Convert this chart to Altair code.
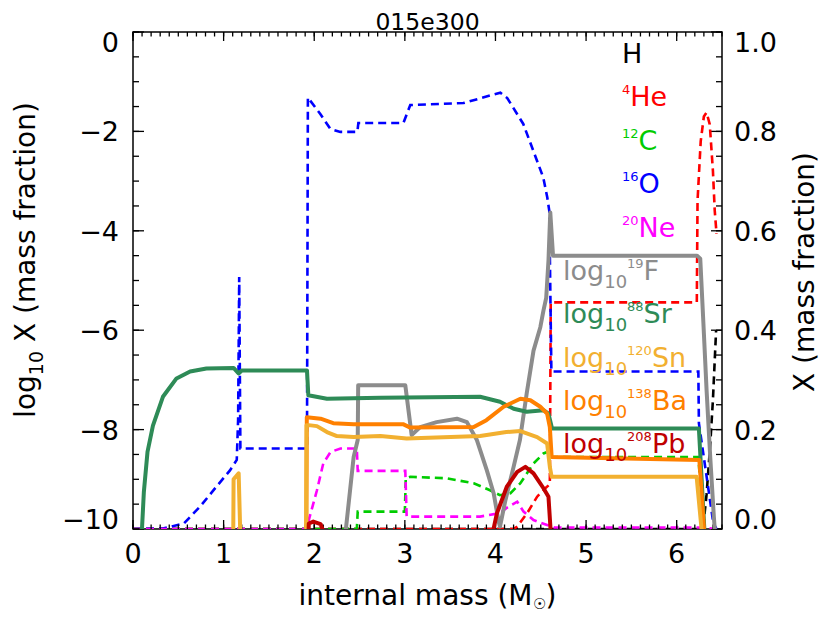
import altair as alt
import pandas as pd

FONT = "DejaVu Sans"
TITLE = "015e300"
X_TITLE_PARTS = [("internal mass (M", "n"), ("☉", "sub"), (")", "n")]
YL_TITLE_PARTS = [("log", "n"), ("10", "sub"), (" X (mass fraction)", "n")]
YR_TITLE = "X (mass fraction)"

# ---------- mass fractions (linear, right axis, dashed) ----------
H_X = [0.0, 6.29, 6.33, 6.37, 6.40, 6.42, 6.435]
H_Y = [0.0, 0.0, 0.07, 0.17, 0.26, 0.34, 0.40]

HE_X = [0.0, 4.20, 4.24, 4.35, 4.46, 4.55, 4.60, 4.61, 6.222, 6.23, 6.265, 6.30, 6.33, 6.365, 6.40, 6.42, 6.44]
HE_Y = [0.0, 0.0, 0.005, 0.032, 0.065, 0.082, 0.09, 0.456, 0.456, 0.66, 0.78, 0.83, 0.838, 0.814, 0.72, 0.64, 0.594]

C_X = [0.0, 2.47, 2.48, 3.00, 3.01, 3.06, 3.46, 3.76, 3.94, 4.05, 4.165, 4.275, 4.42, 4.53, 4.60, 4.61, 6.24, 6.29]
C_Y = [0.0, 0.0, 0.035, 0.035, 0.102, 0.105, 0.102, 0.092, 0.078, 0.068, 0.072, 0.092, 0.132, 0.152, 0.157, 0.145, 0.145, 0.0]

O_X = [0.0, 0.33, 0.56, 0.74, 0.92, 1.07, 1.145, 1.16, 1.172, 1.185, 1.92, 1.93, 2.067, 2.178, 2.288,
       2.476, 2.487, 2.984, 3.06, 3.646, 4.054, 4.13, 4.307, 4.528, 4.572, 4.594, 4.617, 6.239, 6.245, 6.404, 6.44]
O_Y = [0.0, 0.001, 0.011, 0.045, 0.085, 0.118, 0.139, 0.22, 0.507, 0.162, 0.162, 0.868, 0.835, 0.805, 0.799,
       0.799, 0.817, 0.817, 0.853, 0.857, 0.878, 0.867, 0.815, 0.707, 0.667, 0.64, 0.317, 0.317, 0.213, 0.012, 0.0]

NE_X = [0.0, 1.93, 1.94, 2.03, 2.10, 2.18, 2.29, 2.47, 2.48, 3.005, 3.02, 3.83, 4.05, 4.12, 4.24, 4.31, 4.42, 4.57, 4.65, 6.30, 6.44]
NE_Y = [0.0, 0.0, 0.018, 0.078, 0.132, 0.155, 0.162, 0.162, 0.117, 0.117, 0.025, 0.025, 0.032, 0.042, 0.055, 0.035, 0.018, 0.008, 0.003, 0.003, 0.0]

# ---------- log10 mass fractions (left axis, solid); -10.5 = below plot range ----------
F_X = [0.0, 2.32, 2.435, 2.48, 2.485, 3.005, 3.04, 3.075, 3.17, 3.35, 3.575, 3.685, 3.795, 3.905, 3.98, 4.035,
       4.05, 4.11, 4.20, 4.27, 4.345, 4.42, 4.495, 4.53, 4.56, 4.585, 4.605, 4.635, 6.225, 6.26, 6.295, 6.33, 6.37, 6.41, 6.44]
F_Y = [-10.5, -10.5, -8.55, -8.21, -7.11, -7.11, -7.61, -8.11, -7.95, -7.85, -7.78, -7.85, -8.21, -8.82, -9.28, -9.85,
       -9.95, -9.42, -8.75, -8.21, -7.27, -6.41, -5.94, -5.6, -5.35, -4.6, -3.63, -4.5, -4.5, -4.56, -5.87, -7.21, -8.55, -9.75, -10.5]

SR_X = [0.0, 0.085, 0.12, 0.16, 0.22, 0.33, 0.48, 0.63, 0.81, 1.11, 1.165, 1.20, 1.92, 1.935, 2.14, 2.73, 3.83,
        4.05, 4.20, 4.345, 4.53, 4.585, 4.625, 6.245, 6.32]
SR_Y = [-10.5, -10.5, -9.25, -8.45, -7.92, -7.34, -6.97, -6.83, -6.77, -6.76, -6.87, -6.81, -6.81, -7.31, -7.38, -7.36, -7.34,
        -7.44, -7.58, -7.64, -7.61, -7.68, -7.98, -7.98, -10.5]

SN_X = [0.0, 1.105, 1.11, 1.166, 1.19, 1.20, 1.91, 1.915, 1.94, 2.03, 2.14, 2.25, 2.435, 2.73, 3.02, 3.83,
        4.12, 4.275, 4.46, 4.57, 4.60, 4.62, 6.22, 6.30]
SN_Y = [-10.5, -10.5, -9.0, -8.88, -10.5, -10.5, -10.5, -7.91, -7.91, -7.93, -8.05, -8.13, -8.15, -8.13, -8.18, -8.13,
        -8.05, -8.03, -8.15, -8.28, -8.75, -8.95, -8.95, -10.5]

BA_X = [0.0, 1.912, 1.918, 2.07, 2.21, 2.435, 2.98, 3.06, 3.76, 3.90, 4.09, 4.275, 4.385, 4.495, 4.57, 4.60, 4.62, 6.25, 6.32]
BA_Y = [-10.5, -10.5, -7.75, -7.78, -7.87, -7.89, -7.89, -7.96, -7.95, -7.81, -7.54, -7.38, -7.41, -7.54, -7.68, -7.95, -8.55, -8.61, -10.5]

PB_X = [0.0, 1.93, 1.94, 1.99, 2.07, 2.19, 3.92, 4.015, 4.125, 4.24, 4.33, 4.42, 4.53, 4.585, 4.625]
PB_Y = [-10.5, -10.5, -9.89, -9.85, -9.90, -10.5, -10.5, -9.69, -9.15, -8.85, -8.75, -8.88, -9.18, -9.35, -10.5]

LIN_LABELS = [[("H", "n")], [("4", "sup"), ("He", "n")], [("12", "sup"), ("C", "n")],
              [("16", "sup"), ("O", "n")], [("20", "sup"), ("Ne", "n")]]
LOG_LABELS = [[("log", "n"), ("10", "sub"), ("19", "sup"), ("F", "n")],
              [("log", "n"), ("10", "sub"), ("88", "sup"), ("Sr", "n")],
              [("log", "n"), ("10", "sub"), ("120", "sup"), ("Sn", "n")],
              [("log", "n"), ("10", "sub"), ("138", "sup"), ("Ba", "n")],
              [("log", "n"), ("10", "sub"), ("208", "sup"), ("Pb", "n")]]

X_MAJOR = [0, 1, 2, 3, 4, 5, 6]
X_TICK_LABELS = ["0", "1", "2", "3", "4", "5", "6"]
X_MINOR = [round(i * 0.1, 1) for i in range(66)]
YL_MAJOR = [-10, -8, -6, -4, -2, 0]
YL_TICK_LABELS = ["−10", "−8", "−6", "−4", "−2", "0"]
YL_MINOR = [-10 + 0.5 * i for i in range(21)]
YR_MAJOR = [0.0, 0.2, 0.4, 0.6, 0.8, 1.0]
YR_TICK_LABELS = ["0.0", "0.2", "0.4", "0.6", "0.8", "1.0"]
YR_MINOR = [round(0.05 * i, 2) for i in range(21)]

LIN_COLORS = ["#000000", "#FF0000", "#00CC00", "#0000FF", "#FF00FF"]
LOG_COLORS = ["#8C8C8C", "#2E8B57", "#F2B030", "#FF8000", "#C00000"]

W, H = 589, 497
XS = alt.Scale(domain=[0, 6.5], nice=False, zero=False)
YL = alt.Scale(domain=[-10, 0], nice=False, zero=False)
YR = alt.Scale(domain=[0, 1], nice=False, zero=False)

# DejaVu Sans advance widths (em) for composing sub/superscript text
CW = {" ": 0.318, "(": 0.390, ")": 0.390, "B": 0.686, "C": 0.698, "F": 0.575, "H": 0.752, "M": 0.863,
      "N": 0.748, "O": 0.787, "P": 0.603, "S": 0.635, "X": 0.685, "a": 0.613, "b": 0.635, "c": 0.550,
      "e": 0.615, "f": 0.352, "g": 0.635, "i": 0.278, "l": 0.278, "m": 0.974, "n": 0.634, "o": 0.612,
      "r": 0.411, "s": 0.521, "t": 0.392, "☉": 0.838}


def tw(s, size):
    return sum(CW.get(ch, 0.636) for ch in s) * size


def txt(text, x, y, size, color="black", align="left", angle=0):
    return alt.Chart(pd.DataFrame({"t": [text]})).mark_text(
        align=align, baseline="alphabetic", fontSize=size, font=FONT, color=color, angle=angle
    ).encode(text="t:N", x=alt.value(x), y=alt.value(y))


def compose(parts, x0, y0, color="black", base=27, sub=18, sup=13, sub_shift=8, sup_shift=-12, vertical=False):
    out, pos = [], 0.0
    for text, kind in parts:
        size = {"n": base, "sub": sub, "sup": sup}[kind]
        shift = {"n": 0, "sub": sub_shift, "sup": sup_shift}[kind]
        lead = len(text) - len(text.lstrip(" "))
        pos += tw(" " * lead, size)
        body = text.strip(" ")
        if vertical:
            out.append(txt(body, x0 + shift, y0 - pos, size, color, angle=270))
        else:
            out.append(txt(body, x0 + pos, y0 + shift, size, color))
        pos += tw(body, size)
    return out, pos


def series(xs, ys, yscale, color, dashed):
    df = pd.DataFrame({"x": xs, "y": ys, "i": list(range(len(xs)))})
    if dashed:
        mk = alt.Chart(df).mark_line(color=color, strokeWidth=2.6, strokeDash=[8, 5], clip=True)
    else:
        mk = alt.Chart(df).mark_line(color=color, strokeWidth=4, strokeJoin="round", clip=True)
    return mk.encode(x=alt.X("x:Q", scale=XS, axis=None), y=alt.Y("y:Q", scale=yscale, axis=None), order="i:Q")


def xticks(vals, length, top):
    y0, y1 = (0, length) if top else (H, H - length)
    return alt.Chart(pd.DataFrame({"v": vals})).mark_rule(color="black", strokeWidth=1.3).encode(
        x=alt.X("v:Q", scale=XS, axis=None), y=alt.value(y0), y2=alt.value(y1))


def yticks(vals, length, yscale, right):
    x0, x1 = (W, W - length) if right else (0, length)
    return alt.Chart(pd.DataFrame({"v": vals})).mark_rule(color="black", strokeWidth=1.3).encode(
        y=alt.Y("v:Q", scale=yscale, axis=None), x=alt.value(x0), x2=alt.value(x1))


def ylabels(vals, labels, yscale, x, align):
    layers = []
    groups = [(vals[1:-1], labels[1:-1], 10), (vals[:1], labels[:1], 0), (vals[-1:], labels[-1:], 20)]
    for v, lab, dy in groups:
        layers.append(alt.Chart(pd.DataFrame({"v": v, "lab": lab})).mark_text(
            align=align, baseline="alphabetic", fontSize=27, font=FONT, color="black", dy=dy
        ).encode(y=alt.Y("v:Q", scale=yscale, axis=None), x=alt.value(x), text="lab:N"))
    return layers


x_labels = alt.Chart(pd.DataFrame({"v": X_MAJOR, "lab": X_TICK_LABELS})).mark_text(
    align="center", baseline="alphabetic", fontSize=27, font=FONT, color="black"
).encode(x=alt.X("v:Q", scale=XS, axis=None), y=alt.value(H + 34), text="lab:N")

right_group = alt.layer(
    yticks(YR_MAJOR, 11, YR, True),
    yticks(YR_MINOR, 6, YR, True),
    *ylabels(YR_MAJOR, YR_TICK_LABELS, YR, W + 12, "left"),
    series(H_X, H_Y, YR, LIN_COLORS[0], True),
    series(HE_X, HE_Y, YR, LIN_COLORS[1], True),
    series(C_X, C_Y, YR, LIN_COLORS[2], True),
    series(O_X, O_Y, YR, LIN_COLORS[3], True),
    series(NE_X, NE_Y, YR, LIN_COLORS[4], True),
)

left_group = alt.layer(
    xticks(X_MAJOR, 9, False),
    xticks(X_MINOR, 4.5, False),
    xticks(X_MAJOR, 9, True),
    xticks(X_MINOR, 4.5, True),
    x_labels,
    yticks(YL_MAJOR, 11, YL, False),
    yticks(YL_MINOR, 6, YL, False),
    *ylabels(YL_MAJOR, YL_TICK_LABELS, YL, -14, "right"),
    series(F_X, F_Y, YL, LOG_COLORS[0], False),
    series(SR_X, SR_Y, YL, LOG_COLORS[1], False),
    series(BA_X, BA_Y, YL, LOG_COLORS[3], False),
    series(SN_X, SN_Y, YL, LOG_COLORS[2], False),
    series(PB_X, PB_Y, YL, LOG_COLORS[4], False),
)

text_layers = [txt(TITLE, W / 2, -2, 23.5, align="center")]
for i, (parts, c) in enumerate(zip(LIN_LABELS, LIN_COLORS)):
    text_layers += compose(parts, 489, 31 + 43.4 * i, c)[0]
for i, (parts, c) in enumerate(zip(LOG_LABELS, LOG_COLORS)):
    text_layers += compose(parts, 430, 248 + 43.3 * i, c)[0]

# x-axis title, centred under the plot
_, xt_w = compose(X_TITLE_PARTS, 0, 0, base=28, sub=15, sub_shift=4)
text_layers += compose(X_TITLE_PARTS, W / 2 - xt_w / 2, H + 76, base=28, sub=15, sub_shift=4)[0]
# left y title (rotated)
_, yl_w = compose(YL_TITLE_PARTS, 0, 0, base=28, sub=19, sub_shift=8, vertical=True)
text_layers += compose(YL_TITLE_PARTS, -98, 228 + yl_w / 2, base=28, sub=19, sub_shift=8, vertical=True)[0]
# right y title (rotated)
text_layers.append(txt(YR_TITLE, 681, 240 + tw(YR_TITLE, 28) / 2, 28, angle=270))

chart = (
    alt.layer(right_group, left_group, *text_layers)
    .resolve_scale(y="independent")
    .properties(
        width=W,
        height=H,
        padding={"left": 125, "top": 24, "right": 100, "bottom": 86},
        autosize=alt.AutoSizeParams(type="none"),
    )
    .configure_view(stroke="black", strokeWidth=1.5)
)

chart.save("out.html", embed_options={"renderer": "svg", "actions": False})
